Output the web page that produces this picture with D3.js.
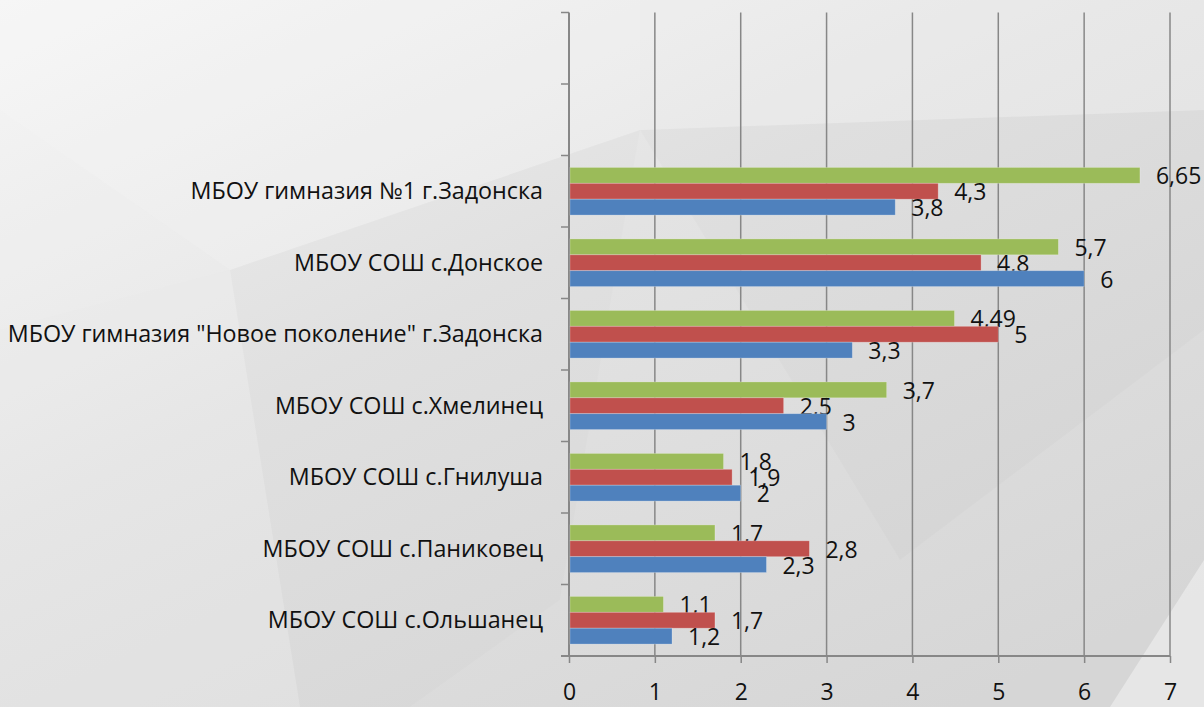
<!DOCTYPE html>
<html>
<head>
<meta charset="utf-8">
<script src="https://cdn.jsdelivr.net/npm/d3@7.9.0/dist/d3.min.js"></script>
<style>
  html, body { margin: 0; padding: 0; overflow: hidden; }
  svg { display: block; }
  text { font-family: "Open Sans", "Noto Sans", sans-serif; fill: #111; }
</style>
</head>
<body>
<svg id="chart" width="1204" height="707"></svg>
<script>
// categories top to bottom (two empty slots at the top, as in the original)
const categories = ["", "",
  "МБОУ гимназия №1 г.Задонска",
  "МБОУ СОШ с.Донское",
  "МБОУ гимназия \"Новое поколение\" г.Задонска",
  "МБОУ СОШ с.Хмелинец",
  "МБОУ СОШ с.Гнилуша",
  "МБОУ СОШ с.Паниковец",
  "МБОУ СОШ с.Ольшанец"];
const blueValues  = [null, null, 3.8, 6,   3.3,  3,   2,   2.3, 1.2];
const redValues   = [null, null, 4.3, 4.8, 5,    2.5, 1.9, 2.8, 1.7];
const greenValues = [null, null, 6.65, 5.7, 4.49, 3.7, 1.8, 1.7, 1.1];
const xTickValues = [0, 1, 2, 3, 4, 5, 6, 7];

const series = [
  { key: "green", values: greenValues, color: "#9bbb59" },
  { key: "red",   values: redValues,   color: "#c0504d" },
  { key: "blue",  values: blueValues,  color: "#4f81bd" }
];

const width = 1204, height = 707;
const svg = d3.select("#chart");

// --- background: light grey low-poly look ---
const defs = svg.append("defs");
const grad = defs.append("linearGradient").attr("id", "bg")
  .attr("x1", "0").attr("y1", "0").attr("x2", "0.8").attr("y2", "1");
grad.append("stop").attr("offset", "0%").attr("stop-color", "#f4f4f4");
grad.append("stop").attr("offset", "45%").attr("stop-color", "#e3e3e3");
grad.append("stop").attr("offset", "100%").attr("stop-color", "#d6d6d6");
svg.append("rect").attr("width", width).attr("height", height).attr("fill", "url(#bg)");

const polys = [
  { pts: [[0,0],[640,0],[640,130],[230,270],[0,110]], fill: "#fff", op: 0.22 },
  { pts: [[640,0],[1204,0],[1204,110],[640,130]], fill: "#fff", op: 0.18 },
  { pts: [[0,110],[230,270],[0,330]], fill: "#fff", op: 0.15 },
  { pts: [[230,270],[640,130],[560,600],[410,707],[300,707]], fill: "#000", op: 0.012 },
  { pts: [[640,130],[1204,110],[1204,330],[900,560]], fill: "#000", op: 0.015 },
  { pts: [[1204,560],[1204,707],[1110,707]], fill: "#fff", op: 0.4 },
  { pts: [[0,330],[230,270],[300,707],[0,707]], fill: "#fff", op: 0.12 }
];
svg.append("g").selectAll("polygon").data(polys).join("polygon")
  .attr("points", d => d.pts.map(p => p.join(",")).join(" "))
  .attr("fill", d => d.fill).attr("opacity", d => d.op);

// --- scales ---
const x = d3.scaleLinear().domain([0, 7]).range([569, 1170]);
const y = d3.scaleBand().domain(d3.range(categories.length)).range([12.5, 656]);
const yInner = d3.scaleBand().domain(series.map(s => s.key))
  .range([0, y.bandwidth()]).paddingInner(0).paddingOuter(0.75);

const gridColor = "#878787";

// vertical gridlines
svg.append("g").selectAll("line").data(xTickValues.slice(1)).join("line")
  .attr("x1", d => x(d)).attr("x2", d => x(d))
  .attr("y1", y.range()[0]).attr("y2", y.range()[1])
  .attr("stroke", gridColor).attr("stroke-width", 1.5);

// x axis
const xAxis = svg.append("g").attr("transform", `translate(0,${y.range()[1]})`)
  .call(d3.axisBottom(x).tickValues(xTickValues).tickFormat(d3.format("d"))
    .tickSize(7).tickPadding(21).tickSizeOuter(0));
xAxis.select(".domain").remove();
xAxis.selectAll(".tick line").attr("stroke", gridColor).attr("stroke-width", 1.5);
xAxis.selectAll(".tick text").style("font-size", "23px").attr("fill", "#111");
svg.append("line")
  .attr("x1", x(0) - 8).attr("x2", x(7))
  .attr("y1", y.range()[1]).attr("y2", y.range()[1])
  .attr("stroke", gridColor).attr("stroke-width", 2);

// y axis: line and tick marks at band boundaries
const boundaries = categories.map((c, i) => y(i)).concat([y.range()[1]]);
svg.append("line")
  .attr("x1", x(0)).attr("x2", x(0))
  .attr("y1", y.range()[0]).attr("y2", y.range()[1])
  .attr("stroke", gridColor).attr("stroke-width", 2);
svg.append("g").selectAll("line").data(boundaries).join("line")
  .attr("x1", x(0) - 8).attr("x2", x(0))
  .attr("y1", d => d).attr("y2", d => d)
  .attr("stroke", gridColor).attr("stroke-width", 1.5);

// category labels
svg.append("g").selectAll("text").data(categories).join("text")
  .attr("x", x(0) - 26)
  .attr("y", (d, i) => y(i) + y.bandwidth() / 2)
  .attr("dy", "0.35em")
  .attr("text-anchor", "end")
  .style("font-size", "23.3px")
  .text(d => d);

// bars
const fmt = v => String(v).replace(".", ",");
series.forEach(s => {
  const rows = s.values.map((v, i) => ({ i, v })).filter(d => d.v != null);
  const g = svg.append("g");
  g.selectAll("rect").data(rows).join("rect")
    .attr("x", x(0) + 1)
    .attr("y", d => y(d.i) + yInner(s.key))
    .attr("width", d => x(d.v) - x(0) - 1)
    .attr("height", yInner.bandwidth())
    .attr("fill", s.color)
    .attr("stroke", "#ffffff").attr("stroke-opacity", 0.3).attr("stroke-width", 0.8);
  g.selectAll("text").data(rows).join("text")
    .attr("x", d => x(d.v) + 16)
    .attr("y", d => y(d.i) + yInner(s.key) + yInner.bandwidth() / 2 + 1)
    .attr("dy", "0.35em")
    .style("font-size", "23px")
    .text(d => fmt(d.v));
});
</script>
</body>
</html>
